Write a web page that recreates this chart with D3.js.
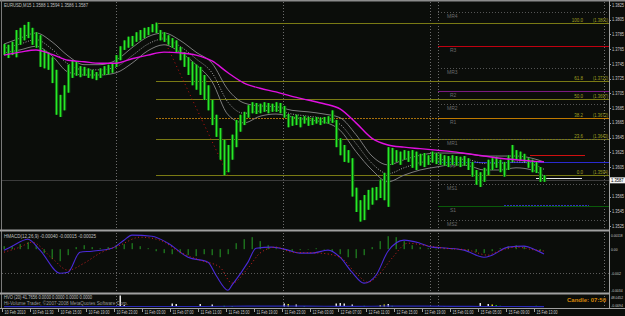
<!DOCTYPE html>
<html>
<head>
<meta charset="utf-8">
<script src="https://cdn.jsdelivr.net/npm/d3@7"></script>
<style>
    body { margin: 0; background: #0b0d0a; }
    svg { display: block; }
    text { font-family: "Liberation Sans", Arial, sans-serif; }
</style>
</head>
<body>
<div id="chart"></div>
<script>
// EURUSD M15 bars, one entry per bar
const barHigh = [1.3772,1.3771,1.3775,1.3791,1.3794,1.3798,1.3802,1.3794,1.3788,1.3784,
    1.3764,1.3761,1.3754,1.3737,1.3703,1.3716,1.3744,1.3750,1.3748,1.3742,
    1.3741,1.3739,1.3737,1.3734,1.3739,1.3742,1.3744,1.3745,1.3757,1.3769,
    1.3777,1.3782,1.3783,1.3788,1.3791,1.3794,1.3795,1.3799,1.3801,1.3791,
    1.3788,1.3784,1.3780,1.3777,1.3768,1.3761,1.3754,1.3748,1.3744,1.3741,
    1.3730,1.3716,1.3696,1.3676,1.3658,1.3642,1.3635,1.3649,1.3669,1.3676,
    1.3680,1.3689,1.3693,1.3692,1.3691,1.3693,1.3692,1.3691,1.3693,1.3692,
    1.3688,1.3677,1.3674,1.3676,1.3673,1.3674,1.3673,1.3672,1.3673,1.3672,
    1.3673,1.3674,1.3682,1.3669,1.3644,1.3635,1.3628,1.3617,1.3577,1.3560,
    1.3567,1.3574,1.3577,1.3578,1.3588,1.3597,1.3632,1.3631,1.3628,1.3626,
    1.3628,1.3627,1.3628,1.3626,1.3623,1.3624,1.3621,1.3626,1.3624,1.3623,
    1.3621,1.3620,1.3621,1.3620,1.3619,1.3620,1.3617,1.3612,1.3601,1.3598,
    1.3604,1.3615,1.3617,1.3619,1.3615,1.3612,1.3621,1.3635,1.3628,1.3626,
    1.3623,1.3617,1.3615,1.3612,1.3605,1.3594];
const barLow = [1.3757,1.3753,1.3757,1.3754,1.3771,1.3777,1.3780,1.3771,1.3767,1.3741,
    1.3739,1.3737,1.3719,1.3676,1.3673,1.3682,1.3706,1.3726,1.3729,1.3727,
    1.3729,1.3726,1.3725,1.3723,1.3726,1.3730,1.3731,1.3733,1.3741,1.3750,
    1.3764,1.3767,1.3769,1.3775,1.3777,1.3780,1.3784,1.3788,1.3787,1.3777,
    1.3775,1.3771,1.3767,1.3761,1.3750,1.3741,1.3730,1.3716,1.3710,1.3703,
    1.3696,1.3682,1.3662,1.3646,1.3615,1.3594,1.3598,1.3615,1.3632,1.3653,
    1.3662,1.3672,1.3678,1.3677,1.3678,1.3680,1.3678,1.3680,1.3680,1.3678,
    1.3672,1.3659,1.3661,1.3662,1.3659,1.3664,1.3661,1.3662,1.3664,1.3662,
    1.3664,1.3664,1.3665,1.3632,1.3621,1.3612,1.3611,1.3565,1.3544,1.3531,
    1.3533,1.3547,1.3554,1.3560,1.3563,1.3560,1.3551,1.3608,1.3612,1.3608,
    1.3615,1.3612,1.3604,1.3601,1.3607,1.3605,1.3608,1.3611,1.3609,1.3608,
    1.3607,1.3605,1.3608,1.3607,1.3605,1.3607,1.3601,1.3592,1.3581,1.3578,
    1.3585,1.3594,1.3601,1.3604,1.3598,1.3592,1.3601,1.3612,1.3615,1.3613,
    1.3612,1.3604,1.3598,1.3597,1.3585,1.3585];

// moving averages, read every 4th bar
const maIdx = [0,4,8,12,16,20,24,28,32,36,40,44,48,52,56,60,64,68,72,76,80,84,88,92,96,100,104,108,112,116,120,124,128,132,135];
const maSlow = [1.3757,1.3761,1.3764,1.3758,1.3750,1.3748,1.3746,1.3746,1.3752,1.3757,
    1.3761,1.3760,1.3757,1.3749,1.3733,1.3719,1.3712,1.3707,1.3701,1.3696,
    1.3691,1.3684,1.3665,1.3644,1.3635,1.3632,1.3630,1.3628,1.3626,1.3623,
    1.3620,1.3617,1.3615,1.3613,1.3612];
const bandUpper = [1.3772,1.3780,1.3787,1.3775,1.3756,1.3744,1.3744,1.3750,1.3767,1.3782,
    1.3787,1.3777,1.3761,1.3746,1.3710,1.3692,1.3688,1.3687,1.3682,1.3680,
    1.3677,1.3672,1.3649,1.3620,1.3608,1.3615,1.3621,1.3624,1.3624,1.3623,
    1.3620,1.3620,1.3620,1.3617,1.3612];
const bandMid = [1.3766,1.3772,1.3778,1.3765,1.3745,1.3737,1.3737,1.3741,1.3756,1.3772,
    1.3779,1.3769,1.3752,1.3733,1.3693,1.3678,1.3681,1.3682,1.3677,1.3674,
    1.3671,1.3663,1.3637,1.3610,1.3596,1.3604,1.3611,1.3614,1.3616,1.3615,
    1.3610,1.3610,1.3612,1.3609,1.3602];
const bandLower = [1.3760,1.3764,1.3769,1.3756,1.3734,1.3730,1.3730,1.3733,1.3746,1.3763,
    1.3771,1.3761,1.3744,1.3721,1.3676,1.3665,1.3674,1.3677,1.3673,1.3669,
    1.3666,1.3655,1.3626,1.3601,1.3585,1.3594,1.3601,1.3605,1.3608,1.3607,
    1.3601,1.3601,1.3604,1.3601,1.3593];

// fibonacci retracement (high bar 38 -> low bar 56)
const fibIdx = [38, 56];
const fibNames = ["100.0", "61.8", "50.0", "38.2", "23.6", "0.0"];
const fibPrices = [1.3801, 1.3722, 1.3697, 1.3672, 1.3643, 1.3594];

// pivot levels
const pivotNames = ["MR4", "R3", "MR3", "R2", "MR2", "R1", "MR1", "PP", "MS1", "S1", "MS2"];
const pivotPrices = [1.3816, 1.3769, 1.3740, 1.3708, 1.3691, 1.3672, 1.3643, 1.3612, 1.3582, 1.3552, 1.3533];

const lastPrice = 1.3587;
const priceTicks = ["1.3825","1.3805","1.3785","1.3765","1.3745","1.3725","1.3705","1.3685",
    "1.3665","1.3645","1.3625","1.3605","1.3585","1.3565","1.3545","1.3525"];

// HMACD(12,26,9)
const macdIdx = [0,2,6,9,14,16,19,22,27,30,32,37,41,46,51,53,56,57,61,63,67,71,74,77,81,84,87,90,93,96,100,104,107,111,115,120,122,126,130,133,135];
const macdMain = [-0.0001,0.00025,0.00083,-0.00008,-0.002,-0.00192,-0.00025,-0.00017,0.00008,0.00075,
    0.00117,0.00108,0.0005,-0.00067,-0.00108,-0.00217,-0.00342,-0.003,-0.00108,0.00008,
    0.00017,-0.00008,-0.00033,-0.00033,-0.00008,-0.00067,-0.00192,-0.00283,-0.00217,-0.00017,
    0.00075,0.0005,0.00017,0.00008,-0.00008,-0.00067,-0.0005,0.00017,0.00025,-0.00008,-0.0004];
const signalIdx = [0,4,7,12,16,20,24,29,34,39,44,49,54,57,61,64,68,72,79,84,88,91,94,97,101,105,110,116,121,123,128,133,135];
const macdSignal = [-0.00025,0.00017,0.00058,-0.00075,-0.00175,-0.00117,-0.00033,0.00033,0.001,0.00075,
    -0.00025,-0.00092,-0.0015,-0.00283,-0.00158,-0.00033,0.00017,-0.00025,-0.00033,-0.00067,
    -0.002,-0.00275,-0.002,-0.00075,0.0005,0.00033,0.00008,-0.00008,-0.0005,-0.00025,
    0.00017,-0.00008,-0.00015];
// histogram, every 2nd bar
const macdHist = [0.00025,0.00025,0.00042,0.00058,0.00033,-0.00033,-0.00083,-0.001,-0.0005,0.00017,
    0.00033,0.00017,0.00008,0.00017,0.00033,0.00042,0.0005,0.00025,0.00008,-0.00017,
    -0.00033,-0.00042,-0.00033,-0.0005,-0.00058,-0.00042,-0.0005,-0.00067,-0.00042,0.0005,
    0.00083,0.001,0.00067,0.00033,0.00008,-0.00008,-0.00017,-0.00008,0,0.00008,
    0,-0.00017,-0.00042,-0.00067,-0.00075,-0.0005,0.00017,0.00067,0.00108,0.001,
    0.00067,0.00033,0.00017,0.00008,0,0.00008,0,-0.00008,-0.00017,-0.00025,
    -0.00033,-0.00017,0.00008,0.00025,0.00033,0.00025,0.00008,-0.00017];
const macdTicks = ["0.00118", "0.00", "-0.002", "-0.0034"];

// HVO(20) volume bars
const volIdx = [29,30,40,42,43,45,49,52,55,57,70,71,73,75,83,84,85,87,88,90,94,95,96,97,110,119,121,122,123,124,129,133];
const volValue = [46,8,4,14,12,4,12,10,5,4,14,12,10,4,14,16,14,10,4,5,8,10,12,5,4,16,12,10,8,5,4,5];
const volKind = ["w","w","g","w","w","g","w","w","g","g","w","y","w","g","w","w","w","w","g","g","y","y","w","g","g","w","w","y","g","g","g","g"];
const hvoIdx = [0,16,32,48,56,64,72,80,88,96,104,112,120,128,135];
const hvoLine = [1.5,1.5,2,2,3,3.5,3.5,3,2.5,3.5,3.5,2.5,2,2,1.5];

const timeLabels = ["10 Feb 2010","10 Feb 11:30","10 Feb 15:00","10 Feb 19:00","10 Feb 23:00",
    "11 Feb 03:00","11 Feb 07:00","11 Feb 11:00","11 Feb 15:00","11 Feb 19:00","11 Feb 23:00",
    "12 Feb 03:00","12 Feb 07:00","12 Feb 11:00","12 Feb 15:00","12 Feb 19:00",
    "15 Feb 01:00","15 Feb 05:00","15 Feb 09:00","15 Feb 13:00"];
// bar indices where period separators sit
const separatorIdx = [28, 69.75, 106.5, 108.5, 150];

class mt4ChartViz {
    constructor(parentElement) {
        this.parentElement = parentElement;
        this.initVis();
    }

    initVis() {
        let vis = this;
        vis.width = 625;
        vis.height = 316;
        vis.right = 609;

        vis.svg = d3.select("#" + vis.parentElement).append("svg")
            .attr("width", vis.width)
            .attr("height", vis.height);

        vis.svg.append("rect").attr("width", vis.width).attr("height", vis.height).attr("fill", "#0b0d0a");

        vis.x = d3.scaleLinear().domain([0, 135]).range([4, 544]);
        vis.y = d3.scaleLinear().domain([1.3525, 1.3825]).range([226, 5]);
        vis.yMacd = d3.scaleLinear().domain([-0.0034, 0.00118]).range([290, 235]);
        vis.yVol = d3.scaleLinear().domain([0, 48]).range([307, 295]);

        vis.wrangleData();
    }

    wrangleData() {
        let vis = this;
        vis.bars = barHigh.map((h, i) => ({i: i, hi: h, lo: barLow[i]}));
        vis.ma = maIdx.map((d, i) => ({i: d, slow: maSlow[i], up: bandUpper[i], mid: bandMid[i], low: bandLower[i]}));
        vis.macd = macdIdx.map((d, i) => ({i: d, v: macdMain[i]}));
        vis.signal = signalIdx.map((d, i) => ({i: d, v: macdSignal[i]}));
        vis.hist = macdHist.map((v, i) => ({i: i * 2, v: v}));
        vis.vol = volIdx.map((d, i) => ({i: d, v: volValue[i], k: volKind[i]}));
        vis.hvo = hvoIdx.map((d, i) => ({i: d, v: hvoLine[i]}));
        vis.updateVis();
    }

    // squeeze a small label into the width it has in the screenshot
    fit(sel, w) {
        return sel.attr("textLength", w).attr("lengthAdjust", "spacingAndGlyphs");
    }

    updateVis() {
        let vis = this;
        let g = vis.svg.append("g");
        let right = vis.right;

        // period separators through every panel
        g.selectAll(".sep").data(separatorIdx).enter().append("line")
            .attr("x1", d => Math.round(vis.x(d)) + 0.5).attr("x2", d => Math.round(vis.x(d)) + 0.5)
            .attr("y1", 2).attr("y2", 308)
            .attr("stroke", "#6c6c6c").attr("stroke-dasharray", "1,2");

        // fib levels
        let fx0 = vis.x(fibIdx[0]);
        g.selectAll(".fib").data(fibPrices).enter().append("line")
            .attr("x1", fx0).attr("x2", right)
            .attr("y1", d => Math.round(vis.y(d)) + 0.5).attr("y2", d => Math.round(vis.y(d)) + 0.5)
            .attr("stroke", (d, i) => fibNames[i] == "38.2" ? "#a8700c" : "#7a7a14")
            .attr("stroke-dasharray", (d, i) => fibNames[i] == "38.2" ? "2,1" : null);
        g.append("line")
            .attr("x1", vis.x(fibIdx[0])).attr("y1", vis.y(fibPrices[0]))
            .attr("x2", vis.x(fibIdx[1])).attr("y2", vis.y(fibPrices[5]))
            .attr("stroke", "#c01010").attr("stroke-dasharray", "1,3");
        g.selectAll(".fibLbl").data(fibNames).enter().append("text")
            .attr("x", 583).attr("y", (d, i) => vis.y(fibPrices[i]) - 1)
            .attr("text-anchor", "end").attr("font-size", 4.5).attr("fill", "#a0a020")
            .text(d => d);
        g.selectAll(".fibVal").data(fibPrices).enter().append("text")
            .attr("x", 593).attr("y", d => vis.y(d) - 1)
            .attr("font-size", 4.5).attr("fill", "#a0a020")
            .text(d => "(" + d.toFixed(4) + ")")
            .call(s => vis.fit(s, 15));

        // pivots
        let pivotColor = {R3: "#c00010", R2: "#7a1a80", R1: "#c07a00", PP: "#2a2ad0", S1: "#0a5a0a"};
        let px0 = vis.x(108.5);
        g.selectAll(".piv").data(pivotPrices).enter().append("line")
            .attr("x1", px0).attr("x2", right)
            .attr("y1", d => Math.round(vis.y(d)) + 0.5).attr("y2", d => Math.round(vis.y(d)) + 0.5)
            .attr("stroke", (d, i) => pivotColor[pivotNames[i]] || "#555")
            .attr("stroke-dasharray", (d, i) => pivotColor[pivotNames[i]] ? null : "1,2");
        g.selectAll(".pivName").data(pivotNames).enter().append("text")
            .attr("x", (d, i) => d.length == 2 ? 450 : 447).attr("y", (d, i) => vis.y(pivotPrices[i]) + 6)
            .attr("font-size", 5).attr("fill", "#6a6a6a")
            .text(d => d);

        // short marker lines
        g.append("line").attr("x1", vis.x(131.5)).attr("x2", 585)
            .attr("y1", Math.round(vis.y(1.3621)) + 0.5).attr("y2", Math.round(vis.y(1.3621)) + 0.5)
            .attr("stroke", "#d01010");
        g.append("line").attr("x1", vis.x(125)).attr("x2", 589)
            .attr("y1", Math.round(vis.y(1.3554)) + 0.5).attr("y2", Math.round(vis.y(1.3554)) + 0.5)
            .attr("stroke", "#3030c0").attr("stroke-dasharray", "2,1");

        // bid line
        g.append("line").attr("x1", 2).attr("x2", right)
            .attr("y1", Math.round(vis.y(lastPrice)) + 0.5).attr("y2", Math.round(vis.y(lastPrice)) + 0.5)
            .attr("stroke", "#3c3c3c");
        g.append("line").attr("x1", vis.x(133)).attr("x2", 582)
            .attr("y1", Math.round(vis.y(lastPrice)) - 1.5).attr("y2", Math.round(vis.y(lastPrice)) - 1.5)
            .attr("stroke", "#e8e8e8");

        // envelopes
        let lineOf = key => d3.line().x(d => vis.x(d.i)).y(d => vis.y(d[key])).curve(d3.curveMonotoneX);
        g.append("path").datum(vis.ma).attr("d", lineOf("up")).attr("fill", "none").attr("stroke", "#7c7c7c");
        g.append("path").datum(vis.ma).attr("d", lineOf("low")).attr("fill", "none").attr("stroke", "#7c7c7c");
        g.append("path").datum(vis.ma).attr("d", lineOf("mid")).attr("fill", "none")
            .attr("stroke", "#a8a8a8").attr("stroke-dasharray", "1,1.5");

        // bars
        let bar = g.selectAll(".bar").data(vis.bars).enter();
        bar.append("rect")
            .attr("x", d => vis.x(d.i) - 1).attr("y", d => vis.y(d.hi))
            .attr("width", 3.2).attr("height", d => Math.max(1, vis.y(d.lo) - vis.y(d.hi)))
            .attr("fill", "#137a13");
        bar.append("line")
            .attr("x1", d => vis.x(d.i) + 0.5).attr("x2", d => vis.x(d.i) + 0.5)
            .attr("y1", d => vis.y(d.hi)).attr("y2", d => vis.y(d.lo))
            .attr("stroke", "#28e828");

        g.append("path").datum(vis.ma).attr("d", lineOf("slow")).attr("fill", "none")
            .attr("stroke", "#e010e0").attr("stroke-width", 1.4);

        // MACD panel
        g.append("line").attr("x1", 2).attr("x2", right)
            .attr("y1", Math.round(vis.yMacd(-0.002)) + 0.5).attr("y2", Math.round(vis.yMacd(-0.002)) + 0.5)
            .attr("stroke", "#5a5a5a").attr("stroke-dasharray", "1,2");
        g.selectAll(".hist").data(vis.hist).enter().append("rect")
            .attr("x", d => vis.x(d.i) - 0.5)
            .attr("y", d => Math.min(vis.yMacd(d.v), vis.yMacd(0)))
            .attr("width", 1.5)
            .attr("height", d => Math.max(0.5, Math.abs(vis.yMacd(d.v) - vis.yMacd(0))))
            .attr("fill", "#1c6e1c");
        let macdLine = d3.line().x(d => vis.x(d.i)).y(d => vis.yMacd(d.v)).curve(d3.curveMonotoneX);
        g.append("path").datum(vis.macd).attr("d", macdLine).attr("fill", "none")
            .attr("stroke", "#4a2ad8").attr("stroke-width", 1.1);
        g.append("path").datum(vis.signal).attr("d", macdLine).attr("fill", "none")
            .attr("stroke", "#d02020").attr("stroke-dasharray", "1,2.5");

        // HVO panel
        let volColor = {w: "#e8e8e8", y: "#e0e020", g: "#20b020"};
        g.selectAll(".vol").data(vis.vol).enter().append("rect")
            .attr("x", d => vis.x(d.i) - 0.5).attr("y", d => vis.yVol(d.v))
            .attr("width", 1.5).attr("height", d => vis.yVol(0) - vis.yVol(d.v))
            .attr("fill", d => volColor[d.k]);
        g.append("path").datum(vis.hvo)
            .attr("d", d3.line().x(d => vis.x(d.i)).y(d => vis.yVol(d.v)).curve(d3.curveMonotoneX))
            .attr("fill", "none").attr("stroke", "#2a2ab8").attr("stroke-width", 1.2);

        // frame
        g.append("rect").attr("x", 0).attr("y", 0).attr("width", vis.width).attr("height", 1.5).attr("fill", "#8c8c8c");
        g.append("line").attr("x1", 1.5).attr("x2", 1.5).attr("y1", 0).attr("y2", 308).attr("stroke", "#7a7a7a");
        g.append("rect").attr("x", 0).attr("y", 229.5).attr("width", right).attr("height", 2).attr("fill", "#a0a0a0");
        g.append("rect").attr("x", 0).attr("y", 292.5).attr("width", right).attr("height", 2).attr("fill", "#a0a0a0");
        g.append("line").attr("x1", 0).attr("x2", vis.width).attr("y1", 308.5).attr("y2", 308.5).attr("stroke", "#a0a0a0");
        g.append("line").attr("x1", right + 0.5).attr("x2", right + 0.5).attr("y1", 0).attr("y2", 308).attr("stroke", "#a0a0a0");

        // price axis
        let axis = g.append("g").attr("font-size", 4.5).attr("fill", "#c8c8c8");
        axis.selectAll(".pt").data(priceTicks).enter().append("text")
            .attr("x", 612).attr("y", d => vis.y(+d) + 1.6).text(d => d)
            .call(s => vis.fit(s, 12));
        axis.selectAll(".ptk").data(priceTicks).enter().append("line")
            .attr("x1", right).attr("x2", right + 2)
            .attr("y1", d => Math.round(vis.y(+d)) + 0.5).attr("y2", d => Math.round(vis.y(+d)) + 0.5)
            .attr("stroke", "#a0a0a0");
        g.append("rect").attr("x", 610).attr("y", vis.y(lastPrice) - 3).attr("width", 15).attr("height", 6).attr("fill", "#f4f4f4");
        g.append("text").attr("x", 611).attr("y", vis.y(lastPrice) + 1.7).attr("font-size", 4.5).attr("fill", "#000")
            .text(lastPrice.toFixed(4)).call(s => vis.fit(s, 12.5));

        // small panels: tighter font so the longer labels stay inside the window
        let axis2 = g.append("g").attr("font-size", 4).attr("fill", "#c8c8c8");
        axis2.selectAll(".mt").data(macdTicks).enter().append("text")
            .attr("x", 611).attr("y", d => vis.yMacd(+d) + 1.5)
            .text(d => d)
            .attr("textLength", d => d.length * 1.65).attr("lengthAdjust", "spacingAndGlyphs");
        axis2.append("text").attr("x", 611).attr("y", 298.5).text("48.0452").call(s => vis.fit(s, 12));
        axis2.append("text").attr("x", 611).attr("y", 306.5).text("-0.0094").call(s => vis.fit(s, 12));

        // time axis
        let tx = d3.scaleLinear().domain([0, timeLabels.length - 1]).range([2, 534]);
        let tg = g.append("g").attr("font-size", 4.5).attr("fill", "#c8c8c8");
        tg.selectAll(".tl").data(timeLabels).enter().append("text")
            .attr("x", (d, i) => tx(i) + 2.5).attr("y", 314).text(d => d)
            .call(s => vis.fit(s, 21));
        tg.selectAll(".tk").data(timeLabels).enter().append("line")
            .attr("x1", (d, i) => Math.round(tx(i)) + 0.5).attr("x2", (d, i) => Math.round(tx(i)) + 0.5)
            .attr("y1", 308).attr("y2", 312).attr("stroke", "#a0a0a0");

        // captions
        let cap = g.append("g").attr("font-size", 4.5).attr("fill", "#c0c0c0");
        cap.append("text").attr("x", 4).attr("y", 7).text("EURUSD,M15  1.3588 1.3594 1.3586 1.3587").call(s => vis.fit(s, 84));
        cap.append("text").attr("x", 4).attr("y", 238).text("HMACD(12,26,9) -0.00040 -0.00015 -0.00025").call(s => vis.fit(s, 92));
        cap.append("text").attr("x", 4).attr("y", 298.5).text("HVO (20) 41.7656 0.0000 0.0000 0.0000 0.0000").call(s => vis.fit(s, 88));
        cap.append("text").attr("x", 4).attr("y", 305).attr("fill", "#9a9a9a")
            .text("Hi-Volume Trader, ©2007-2008 MetaQuotes Software Corp.").call(s => vis.fit(s, 124));
        g.append("text").attr("x", 567).attr("y", 301.5).attr("font-size", 6).attr("font-weight", "bold")
            .attr("fill", "#d8880a").text("Candle: 07:50").call(s => vis.fit(s, 39));
    }
}

new mt4ChartViz("chart");
</script>
</body>
</html>
